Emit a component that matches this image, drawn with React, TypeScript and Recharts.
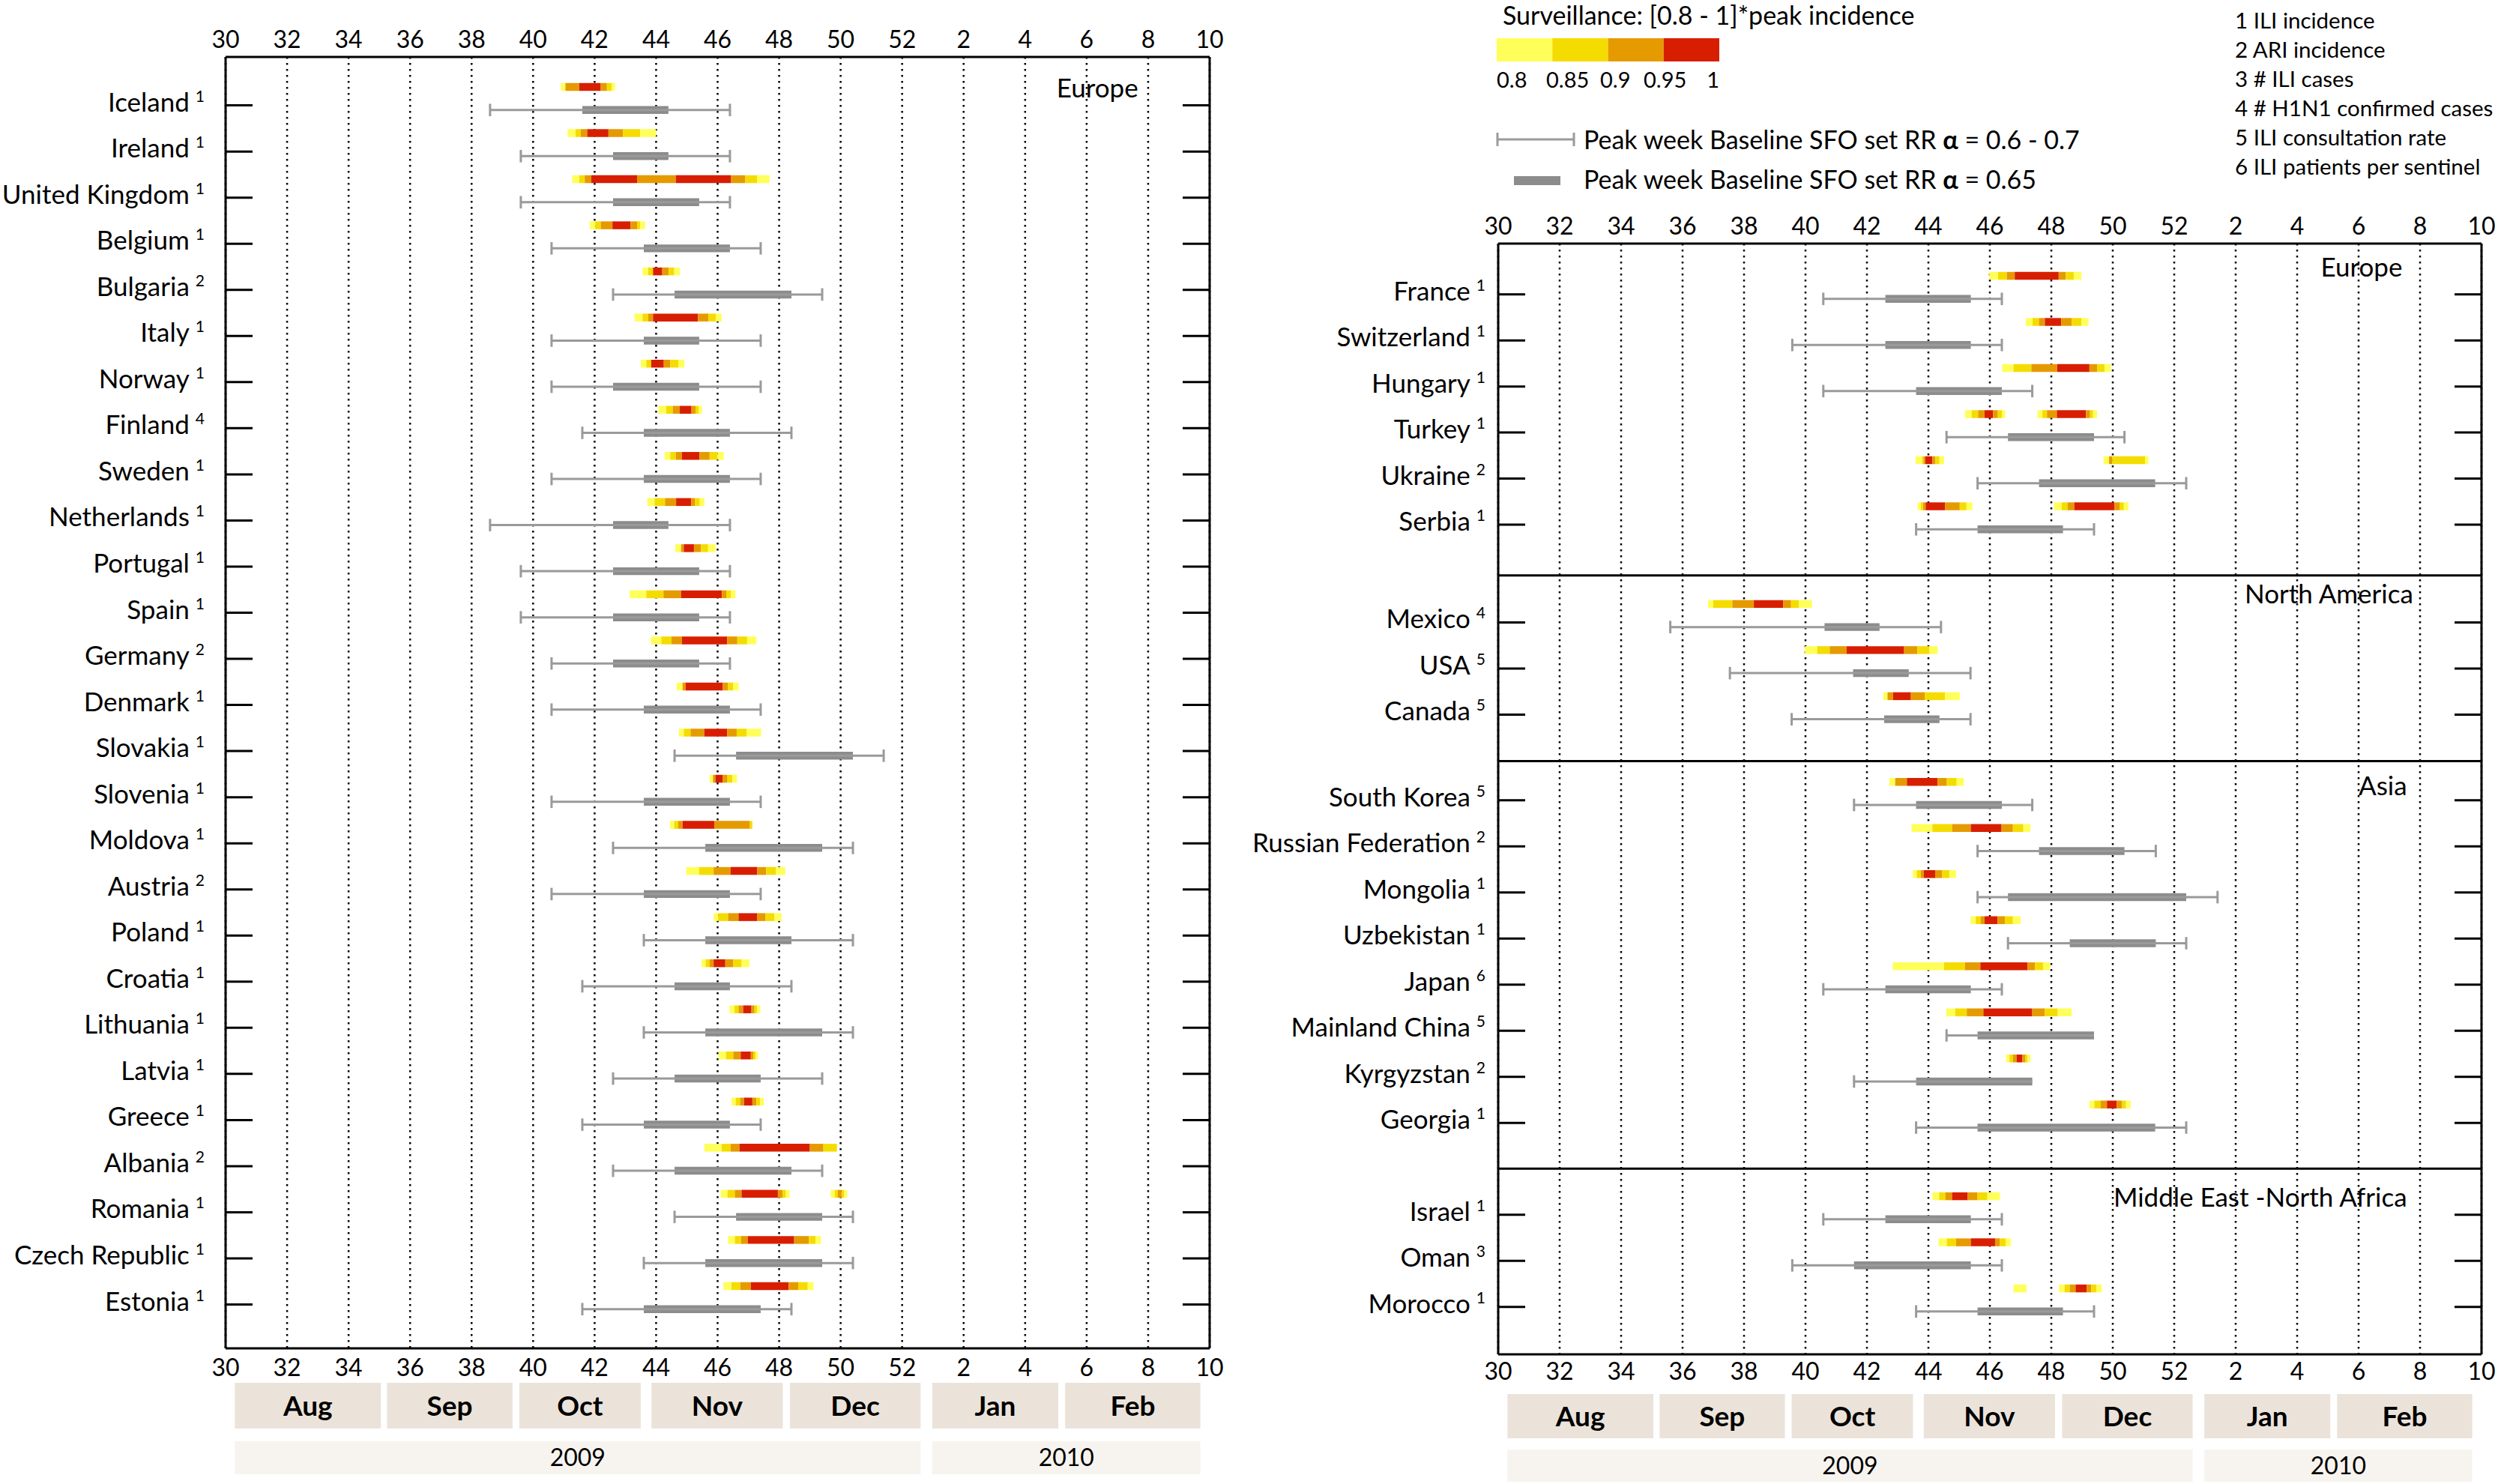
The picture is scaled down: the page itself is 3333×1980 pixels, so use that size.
import React from "react";
import {
  ComposedChart,
  XAxis,
  YAxis,
  CartesianGrid,
  ReferenceArea,
  ReferenceLine,
  ReferenceDot,
} from "recharts";

const FONT = "Lato, 'Noto Sans', 'DejaVu Sans', sans-serif";

// week axis: 2009 weeks run to 52, then 54 = week 2 of 2010 etc.
const WEEK_TICKS = [30, 32, 34, 36, 38, 40, 42, 44, 46, 48, 50, 52, 54, 56, 58, 60, 62];
const weekLabel = (v: number) => String(v > 52 ? v - 52 : v);

// surveillance colour classes
const LEVEL_COLORS = ["#FFFF5A", "#F5DC00", "#E59A00", "#D81E00"];
const LEVEL_LABELS = ["0.8", "0.85", "0.9", "0.95", "1"];

const MONTHS = ["Aug", "Sep", "Oct", "Nov", "Dec", "Jan", "Feb"];
const MONTH_FROM = [30.3, 35.25, 39.55, 43.85, 48.35, 52.98, 57.3];
const MONTH_TO = [35.05, 39.33, 43.5, 48.12, 52.6, 57.08, 61.7];
const YEARS = ["2009", "2010"];
const YEAR_FROM = [30.3, 52.98];
const YEAR_TO = [52.6, 61.7];

const FOOTNOTES = [
  "1 ILI incidence",
  "2 ARI incidence",
  "3 # ILI cases",
  "4 # H1N1 confirmed cases",
  "5 ILI consultation rate",
  "6 ILI patients per sentinel",
];

// ---------- left panel: Europe ----------
const EUROPE_W = [
  "Iceland", "Ireland", "United Kingdom", "Belgium", "Bulgaria", "Italy", "Norway",
  "Finland", "Sweden", "Netherlands", "Portugal", "Spain", "Germany", "Denmark",
  "Slovakia", "Slovenia", "Moldova", "Austria", "Poland", "Croatia", "Lithuania",
  "Latvia", "Greece", "Albania", "Romania", "Czech Republic", "Estonia",
];
const EUROPE_W_NOTE = [1, 1, 1, 1, 2, 1, 1, 4, 1, 1, 1, 1, 2, 1, 1, 1, 1, 2, 1, 1, 1, 1, 1, 2, 1, 1, 1];
// [from week, to week, level index]
const EUROPE_W_SURV = [
  [[40.9, 41.05, 0], [41.05, 41.5, 2], [41.5, 42.2, 3], [42.2, 42.4, 2], [42.4, 42.55, 1], [42.55, 42.66, 0]],
  [[41.12, 41.38, 0], [41.38, 41.55, 1], [41.55, 41.76, 2], [41.76, 42.45, 3], [42.45, 42.92, 2], [42.92, 43.48, 1], [43.48, 44.0, 0]],
  [[41.27, 41.5, 0], [41.5, 41.68, 1], [41.68, 41.89, 2], [41.89, 43.38, 3], [43.38, 44.64, 2], [44.64, 46.44, 3], [46.44, 46.9, 2], [46.9, 47.28, 1], [47.28, 47.69, 0]],
  [[41.84, 42.02, 0], [42.02, 42.2, 1], [42.2, 42.58, 2], [42.58, 43.17, 3], [43.17, 43.38, 2], [43.38, 43.48, 1], [43.48, 43.64, 0]],
  [[43.56, 43.74, 0], [43.74, 43.9, 1], [43.9, 44.2, 3], [44.2, 44.41, 2], [44.41, 44.59, 1], [44.59, 44.77, 0]],
  [[43.3, 43.56, 0], [43.56, 43.74, 1], [43.74, 43.9, 2], [43.9, 45.36, 3], [45.36, 45.7, 2], [45.7, 45.95, 1], [45.95, 46.13, 0]],
  [[43.5, 43.68, 0], [43.68, 43.84, 1], [43.84, 44.25, 3], [44.25, 44.46, 2], [44.46, 44.72, 1], [44.72, 44.92, 0]],
  [[44.07, 44.33, 0], [44.33, 44.54, 1], [44.54, 44.77, 2], [44.77, 45.15, 3], [45.15, 45.28, 2], [45.28, 45.38, 1], [45.38, 45.49, 0]],
  [[44.28, 44.46, 0], [44.46, 44.64, 1], [44.64, 44.84, 2], [44.84, 45.41, 3], [45.41, 45.74, 2], [45.74, 46.0, 1], [46.0, 46.2, 0]],
  [[43.71, 43.95, 0], [43.95, 44.29, 1], [44.29, 44.65, 2], [44.65, 45.14, 3], [45.14, 45.27, 2], [45.27, 45.42, 1], [45.42, 45.57, 0]],
  [[44.62, 44.81, 0], [44.81, 44.9, 2], [44.9, 45.23, 3], [45.23, 45.46, 2], [45.46, 45.69, 1], [45.69, 45.93, 0]],
  [[43.14, 43.68, 0], [43.68, 44.24, 1], [44.24, 44.81, 2], [44.81, 46.14, 3], [46.14, 46.28, 2], [46.28, 46.43, 1], [46.43, 46.58, 0]],
  [[43.83, 44.17, 0], [44.17, 44.5, 1], [44.5, 44.84, 2], [44.84, 46.31, 3], [46.31, 46.64, 2], [46.64, 46.96, 1], [46.96, 47.26, 0]],
  [[44.67, 44.86, 0], [44.86, 44.96, 2], [44.96, 46.17, 3], [46.17, 46.34, 2], [46.34, 46.5, 1], [46.5, 46.68, 0]],
  [[44.74, 44.9, 0], [44.9, 45.12, 1], [45.12, 45.57, 2], [45.57, 46.31, 3], [46.31, 46.62, 2], [46.62, 46.94, 1], [46.94, 47.41, 0]],
  [[45.74, 45.85, 0], [45.85, 45.93, 2], [45.93, 46.16, 3], [46.16, 46.32, 2], [46.32, 46.48, 1], [46.48, 46.63, 0]],
  [[44.45, 44.59, 0], [44.59, 44.72, 1], [44.72, 44.86, 2], [44.86, 45.89, 3], [45.89, 47.05, 2], [47.05, 47.13, 1]],
  [[44.98, 45.4, 0], [45.4, 45.87, 1], [45.87, 46.42, 2], [46.42, 47.29, 3], [47.29, 47.58, 2], [47.58, 47.89, 1], [47.89, 48.2, 0]],
  [[45.87, 46.02, 0], [46.02, 46.34, 1], [46.34, 46.68, 2], [46.68, 47.28, 3], [47.28, 47.56, 2], [47.56, 47.84, 1], [47.84, 48.08, 0]],
  [[45.48, 45.61, 0], [45.61, 45.74, 1], [45.74, 45.87, 2], [45.87, 46.25, 3], [46.25, 46.51, 2], [46.51, 46.78, 1], [46.78, 47.03, 0]],
  [[46.39, 46.55, 0], [46.55, 46.68, 1], [46.68, 46.83, 2], [46.83, 47.1, 3], [47.1, 47.2, 2], [47.2, 47.28, 1], [47.28, 47.38, 0]],
  [[46.03, 46.27, 0], [46.27, 46.51, 1], [46.51, 46.75, 2], [46.75, 47.08, 3], [47.08, 47.16, 2], [47.16, 47.23, 1], [47.23, 47.31, 0]],
  [[46.45, 46.59, 0], [46.59, 46.73, 1], [46.73, 46.86, 2], [46.86, 47.13, 3], [47.13, 47.26, 2], [47.26, 47.38, 1], [47.38, 47.5, 0]],
  [[45.57, 46.13, 0], [46.13, 46.42, 1], [46.42, 46.71, 2], [46.71, 49.0, 3], [49.0, 49.44, 2], [49.44, 49.88, 1]],
  [[46.1, 46.32, 0], [46.32, 46.56, 1], [46.56, 46.78, 2], [46.78, 47.96, 3], [47.96, 48.11, 2], [48.11, 48.22, 1], [48.22, 48.34, 0],
   [49.68, 49.81, 0], [49.81, 49.91, 1], [49.91, 50.03, 2], [50.03, 50.11, 1], [50.11, 50.21, 0]],
  [[46.34, 46.56, 0], [46.56, 46.76, 1], [46.76, 46.98, 2], [46.98, 48.49, 3], [48.49, 48.97, 2], [48.97, 49.18, 1], [49.18, 49.36, 0]],
  [[46.19, 46.45, 0], [46.45, 46.74, 1], [46.74, 47.08, 2], [47.08, 48.31, 3], [48.31, 48.62, 2], [48.62, 48.93, 1], [48.93, 49.12, 0]],
];
// [whisker low, box low, box high, whisker high]
const EUROPE_W_BASE = [
  [38.6, 41.6, 44.4, 46.4], [39.6, 42.6, 44.4, 46.4], [39.6, 42.6, 45.4, 46.4], [40.6, 43.6, 46.4, 47.4],
  [42.6, 44.6, 48.4, 49.4], [40.6, 43.6, 45.4, 47.4], [40.6, 42.6, 45.4, 47.4], [41.6, 43.6, 46.4, 48.4],
  [40.6, 43.6, 46.4, 47.4], [38.6, 42.6, 44.4, 46.4], [39.6, 42.6, 45.4, 46.4], [39.6, 42.6, 45.4, 46.4],
  [40.6, 42.6, 45.4, 46.4], [40.6, 43.6, 46.4, 47.4], [44.6, 46.6, 50.4, 51.4], [40.6, 43.6, 46.4, 47.4],
  [42.6, 45.6, 49.4, 50.4], [40.6, 43.6, 46.4, 47.4], [43.6, 45.6, 48.4, 50.4], [41.6, 44.6, 46.4, 48.4],
  [43.6, 45.6, 49.4, 50.4], [42.6, 44.6, 47.4, 49.4], [41.6, 43.6, 46.4, 47.4], [42.6, 44.6, 48.4, 49.4],
  [44.6, 46.6, 49.4, 50.4], [43.6, 45.6, 49.4, 50.4], [41.6, 43.6, 47.4, 48.4],
];

// ---------- right panel ----------
const EUROPE_E = ["France", "Switzerland", "Hungary", "Turkey", "Ukraine", "Serbia"];
const EUROPE_E_NOTE = [1, 1, 1, 1, 2, 1];
const EUROPE_E_SURV = [
  [[45.98, 46.27, 0], [46.27, 46.55, 1], [46.55, 46.81, 2], [46.81, 48.24, 3], [48.24, 48.47, 2], [48.47, 48.73, 1], [48.73, 48.98, 0]],
  [[47.17, 47.39, 0], [47.39, 47.6, 1], [47.6, 47.79, 2], [47.79, 48.32, 3], [48.32, 48.66, 2], [48.66, 48.98, 1], [48.98, 49.21, 0]],
  [[46.4, 46.77, 0], [46.77, 47.35, 1], [47.35, 48.19, 2], [48.19, 49.24, 3], [49.24, 49.5, 2], [49.5, 49.73, 1], [49.73, 49.94, 0]],
  [[45.19, 45.41, 0], [45.41, 45.62, 1], [45.62, 45.83, 2], [45.83, 46.1, 3], [46.1, 46.26, 2], [46.26, 46.39, 1], [46.39, 46.5, 0],
   [47.55, 47.71, 0], [47.71, 47.86, 1], [47.86, 48.18, 2], [48.18, 49.13, 3], [49.13, 49.26, 2], [49.26, 49.36, 1], [49.36, 49.49, 0]],
  [[43.58, 43.79, 0], [43.79, 43.84, 1], [43.84, 43.9, 2], [43.9, 44.13, 3], [44.13, 44.23, 2], [44.23, 44.36, 1], [44.36, 44.51, 0],
   [49.7, 49.88, 0], [49.88, 49.98, 2], [49.98, 51.05, 1], [51.05, 51.16, 0]],
  [[43.65, 43.75, 0], [43.75, 43.83, 1], [43.83, 43.91, 2], [43.91, 44.54, 3], [44.54, 45.02, 2], [45.02, 45.24, 1], [45.24, 45.43, 0],
   [48.09, 48.34, 0], [48.34, 48.53, 1], [48.53, 48.75, 2], [48.75, 50.06, 3], [50.06, 50.22, 2], [50.22, 50.36, 1], [50.36, 50.51, 0]],
];
const EUROPE_E_BASE = [
  [40.58, 42.6, 45.38, 46.39], [39.57, 42.6, 45.38, 46.39], [40.58, 43.6, 46.39, 47.38],
  [44.59, 46.59, 49.39, 50.38], [45.6, 47.6, 51.38, 52.39], [43.6, 45.6, 48.38, 49.39],
];

const NAMERICA = ["Mexico", "USA", "Canada"];
const NAMERICA_NOTE = [4, 5, 5];
const NAMERICA_SURV = [
  [[36.83, 37.0, 0], [37.0, 37.62, 1], [37.62, 38.32, 2], [38.32, 39.28, 3], [39.28, 39.53, 2], [39.53, 39.79, 1], [39.79, 40.21, 0]],
  [[39.98, 40.38, 0], [40.38, 40.79, 1], [40.79, 41.34, 2], [41.34, 43.21, 3], [43.21, 43.64, 2], [43.64, 44.03, 1], [44.03, 44.3, 0]],
  [[42.53, 42.67, 0], [42.67, 42.85, 2], [42.85, 43.43, 3], [43.43, 43.88, 2], [43.88, 44.54, 1], [44.54, 45.02, 0]],
];
const NAMERICA_BASE = [
  [35.6, 40.62, 42.41, 44.41], [37.54, 41.55, 43.36, 45.37], [39.55, 42.56, 44.36, 45.37],
];

const ASIA = ["South Korea", "Russian Federation", "Mongolia", "Uzbekistan", "Japan", "Mainland China", "Kyrgyzstan", "Georgia"];
const ASIA_NOTE = [5, 2, 1, 1, 6, 5, 2, 1];
const ASIA_SURV = [
  [[42.73, 42.92, 0], [42.92, 43.3, 2], [43.3, 44.3, 3], [44.3, 44.6, 2], [44.6, 44.92, 1], [44.92, 45.15, 0]],
  [[43.45, 44.13, 0], [44.13, 44.77, 1], [44.77, 45.38, 2], [45.38, 46.38, 3], [46.38, 46.75, 2], [46.75, 47.09, 1], [47.09, 47.32, 0]],
  [[43.49, 43.62, 0], [43.62, 43.75, 1], [43.75, 43.85, 2], [43.85, 44.22, 3], [44.22, 44.45, 2], [44.45, 44.68, 1], [44.68, 44.9, 0]],
  [[45.38, 45.54, 0], [45.54, 45.7, 1], [45.7, 45.83, 2], [45.83, 46.25, 3], [46.25, 46.49, 2], [46.49, 46.75, 1], [46.75, 47.0, 0]],
  [[42.84, 44.51, 0], [44.51, 45.19, 1], [45.19, 45.69, 2], [45.69, 47.23, 3], [47.23, 47.47, 2], [47.47, 47.73, 1], [47.73, 47.96, 0]],
  [[44.58, 44.87, 0], [44.87, 45.25, 1], [45.25, 45.79, 2], [45.79, 47.38, 3], [47.38, 47.79, 2], [47.79, 48.21, 1], [48.21, 48.66, 0]],
  [[46.53, 46.64, 0], [46.64, 46.75, 1], [46.75, 46.87, 2], [46.87, 47.06, 3], [47.06, 47.15, 2], [47.15, 47.23, 1], [47.23, 47.32, 0]],
  [[49.24, 49.4, 0], [49.4, 49.6, 1], [49.6, 49.81, 2], [49.81, 50.13, 3], [50.13, 50.3, 2], [50.3, 50.43, 1], [50.43, 50.58, 0]],
];
const ASIA_BASE = [
  [41.58, 43.6, 46.39, 47.38], [45.6, 47.6, 50.38, 51.4], [45.6, 46.59, 52.39, 53.41], [46.59, 48.6, 51.4, 52.39],
  [40.58, 42.6, 45.38, 46.39], [44.59, 45.6, 49.39, 49.39], [41.58, 43.6, 47.38, 47.38], [43.6, 45.6, 51.38, 52.39],
];

const MENA = ["Israel", "Oman", "Morocco"];
const MENA_NOTE = [1, 3, 1];
const MENA_SURV = [
  [[44.13, 44.35, 0], [44.35, 44.55, 1], [44.55, 44.77, 2], [44.77, 45.28, 3], [45.28, 45.6, 2], [45.6, 45.92, 1], [45.92, 46.33, 0]],
  [[44.33, 44.6, 0], [44.6, 44.9, 1], [44.9, 45.38, 2], [45.38, 46.17, 3], [46.17, 46.33, 2], [46.33, 46.52, 1], [46.52, 46.68, 0]],
  [[46.77, 47.19, 0], [48.25, 48.43, 0], [48.43, 48.6, 1], [48.6, 48.79, 2], [48.79, 49.15, 3], [49.15, 49.3, 2], [49.3, 49.47, 1], [49.47, 49.64, 0]],
];
const MENA_BASE = [
  [40.58, 42.6, 45.38, 46.39], [39.57, 41.58, 45.38, 46.39], [43.6, 45.6, 48.38, 49.39],
];

// ---------- layout ----------
const LEFT_GEO = {
  left: 0, top: 0, width: 1640, height: 1870,
  plotLeft: 301, plotRight: 1614, plotTop: 76, plotBottom: 1799,
  yMax: 28, labelGap: 28, bottomGap: 14,
};
const RIGHT_GEO = {
  left: 1640, top: 240, width: 1693, height: 1627,
  plotLeft: 1999, plotRight: 3311, plotTop: 325, plotBottom: 1807,
  yMax: 24.1, labelGap: 17, bottomGap: 11,
};

type Section = {
  region: string;
  countries: string[];
  notes: number[];
  surv: number[][][];
  base: number[][];
  start: number; // y position of first row
  labelX: number;
  labelY: number;
};

const LEFT_SECTIONS: Section[] = [
  { region: "Europe", countries: EUROPE_W, notes: EUROPE_W_NOTE, surv: EUROPE_W_SURV, base: EUROPE_W_BASE, start: 1.05, labelX: 59.7, labelY: 0.67 },
];
const RIGHT_SECTIONS: Section[] = [
  { region: "Europe", countries: EUROPE_E, notes: EUROPE_E_NOTE, surv: EUROPE_E_SURV, base: EUROPE_E_BASE, start: 1.1, labelX: 59.45, labelY: 0.52 },
  { region: "North America", countries: NAMERICA, notes: NAMERICA_NOTE, surv: NAMERICA_SURV, base: NAMERICA_BASE, start: 8.22, labelX: 59.8, labelY: 7.61 },
  { region: "Asia", countries: ASIA, notes: ASIA_NOTE, surv: ASIA_SURV, base: ASIA_BASE, start: 12.08, labelX: 59.6, labelY: 11.76 },
  { region: "Middle East -North Africa", countries: MENA, notes: MENA_NOTE, surv: MENA_SURV, base: MENA_BASE, start: 21.07, labelX: 59.6, labelY: 20.7 },
];
const RIGHT_SEPARATORS = [7.2, 11.23, 20.07];

const SURV_OFFSET = -0.4;
const BASE_OFFSET = 0.1;
const BAR_HALF = 0.085;
const CAP_HALF = 0.135;
const BOX_COLOR = "#8C8C8C";
const WHISKER_COLOR = "#9A9A9A";

type Row = { name: string; note: number; pos: number; wk: number; surv: number[][]; base: number[] };

const NameTick = (props: any) => {
  const { x, y, payload, rows, gap } = props;
  const row = rows.find((r: Row) => Math.abs(r.pos - payload.value) < 1e-6);
  if (!row) return null;
  return (
    <g>
      <line x1={x + gap} x2={x + gap + 36} y1={y} y2={y} stroke="#000" strokeWidth={3} />
      <text x={x} y={y + 8} textAnchor="end" fontSize={35} fontFamily={FONT} fill="#000">
        {row.name}
        <tspan dx={8} dy={-13} fontSize={21}>
          {row.note}
        </tspan>
      </text>
    </g>
  );
};

const InnerTick = (props: any) => {
  const { x, y } = props;
  return <line x1={x - 36} x2={x} y1={y} y2={y} stroke="#000" strokeWidth={3} />;
};

const axisTick = { fontSize: 32, fill: "#000", fontFamily: FONT };
const frameLine = { stroke: "#000", strokeWidth: 3 };

function Panel({ geo, sections, separators }: { geo: typeof LEFT_GEO; sections: Section[]; separators: number[] }) {
  const rows: Row[] = sections.flatMap((s) =>
    s.countries.map((c, i) => ({
      name: c,
      note: s.notes[i],
      pos: s.start + i,
      wk: s.base[i][1],
      surv: s.surv[i],
      base: s.base[i],
    }))
  );
  const ticks = rows.map((r) => r.pos);
  const ids = { xAxisId: "t", yAxisId: "l" };

  return (
    <div style={{ position: "absolute", left: geo.left, top: geo.top }}>
      <ComposedChart width={geo.width} height={geo.height} data={rows} margin={{ top: 0, right: 0, bottom: 0, left: 0 }}>
        <XAxis
          xAxisId="t"
          dataKey="wk"
          orientation="top"
          type="number"
          domain={[30, 62]}
          allowDataOverflow
          ticks={WEEK_TICKS}
          interval={0}
          height={geo.plotTop - geo.top}
          tickLine={false}
          tickSize={0}
          tickMargin={12}
          tickFormatter={weekLabel}
          tick={axisTick}
          axisLine={frameLine}
        />
        <XAxis
          xAxisId="b"
          dataKey="wk"
          orientation="bottom"
          type="number"
          domain={[30, 62]}
          allowDataOverflow
          ticks={WEEK_TICKS}
          interval={0}
          height={geo.top + geo.height - geo.plotBottom}
          tickLine={false}
          tickSize={0}
          tickMargin={geo.bottomGap}
          tickFormatter={weekLabel}
          tick={axisTick}
          axisLine={frameLine}
        />
        <YAxis
          yAxisId="l"
          orientation="left"
          type="number"
          domain={[0, geo.yMax]}
          allowDataOverflow
          reversed
          ticks={ticks}
          interval={0}
          width={geo.plotLeft - geo.left}
          tickLine={false}
          tickSize={0}
          tickMargin={geo.labelGap}
          tick={(p: any) => <NameTick {...p} rows={rows} gap={geo.labelGap} />}
          axisLine={frameLine}
        />
        <YAxis
          yAxisId="r"
          orientation="right"
          type="number"
          domain={[0, geo.yMax]}
          allowDataOverflow
          reversed
          ticks={ticks}
          interval={0}
          width={geo.left + geo.width - geo.plotRight}
          tickLine={false}
          tickSize={0}
          tickMargin={0}
          tick={(p: any) => <InnerTick {...p} />}
          axisLine={frameLine}
        />
        <CartesianGrid {...ids} horizontal={false} stroke="#000" strokeWidth={2.5} strokeDasharray="2.5 5.5" />

        {separators.map((s) => (
          <ReferenceLine key={`sep${s}`} {...ids} y={s} stroke="#000" strokeWidth={3} />
        ))}

        {sections.map((s) => (
          <ReferenceDot
            key={`reg${s.region}`}
            {...ids}
            x={s.labelX}
            y={s.labelY}
            r={1}
            fill="none"
            stroke="none"
            label={{ value: s.region, position: "left", offset: 0, fontSize: 35, fill: "#000", fontFamily: FONT }}
          />
        ))}

        {rows.map((r) => {
          const [lo, q1, q3, hi] = r.base;
          const y = r.pos + BASE_OFFSET;
          return (
            <React.Fragment key={`b${r.name}`}>
              <ReferenceLine {...ids} segment={[{ x: lo, y }, { x: hi, y }]} stroke={WHISKER_COLOR} strokeWidth={3} />
              {lo < q1 - 0.01 && (
                <ReferenceLine {...ids} segment={[{ x: lo, y: y - CAP_HALF }, { x: lo, y: y + CAP_HALF }]} stroke={WHISKER_COLOR} strokeWidth={3} />
              )}
              {hi > q3 + 0.01 && (
                <ReferenceLine {...ids} segment={[{ x: hi, y: y - CAP_HALF }, { x: hi, y: y + CAP_HALF }]} stroke={WHISKER_COLOR} strokeWidth={3} />
              )}
              <ReferenceArea {...ids} x1={q1} x2={q3} y1={y - BAR_HALF} y2={y + BAR_HALF} fill={BOX_COLOR} fillOpacity={1} stroke="none" />
            </React.Fragment>
          );
        })}

        {rows.flatMap((r) =>
          r.surv.map(([a, b, l], k) => (
            <ReferenceArea
              key={`s${r.name}${k}`}
              {...ids}
              x1={a}
              x2={b}
              y1={r.pos + SURV_OFFSET - BAR_HALF}
              y2={r.pos + SURV_OFFSET + BAR_HALF}
              fill={LEVEL_COLORS[l]}
              fillOpacity={1}
              stroke="none"
            />
          ))
        )}
      </ComposedChart>
    </div>
  );
}

// strip of month / year boxes under a panel (y in strip pixels)
function CalendarStrip({ geo, top, height, monthBand, yearBand }: { geo: typeof LEFT_GEO; top: number; height: number; monthBand: number[]; yearBand: number[] }) {
  return (
    <div style={{ position: "absolute", left: geo.left, top }}>
      <ComposedChart
        width={geo.width}
        height={height}
        data={MONTHS.map((m, i) => ({ m, from: MONTH_FROM[i], to: MONTH_TO[i] }))}
        margin={{ top: 0, bottom: 0, left: geo.plotLeft - geo.left, right: geo.left + geo.width - geo.plotRight }}
      >
        <XAxis dataKey="from" type="number" domain={[30, 62]} allowDataOverflow hide height={0} />
        <YAxis type="number" domain={[0, height]} allowDataOverflow reversed hide width={0} />
        {MONTHS.map((m, i) => (
          <ReferenceArea
            key={m}
            x1={MONTH_FROM[i]}
            x2={MONTH_TO[i]}
            y1={monthBand[0]}
            y2={monthBand[1]}
            fill="#EBE3DA"
            fillOpacity={1}
            stroke="none"
            label={{ value: m, position: "center", fontSize: 37, fontWeight: 700, fill: "#000", fontFamily: FONT }}
          />
        ))}
        {YEARS.map((yr, i) => (
          <ReferenceArea
            key={yr}
            x1={YEAR_FROM[i]}
            x2={YEAR_TO[i]}
            y1={yearBand[0]}
            y2={yearBand[1]}
            fill="#F7F4EF"
            fillOpacity={1}
            stroke="none"
            label={{ value: yr, position: "center", fontSize: 32, fill: "#000", fontFamily: FONT }}
          />
        ))}
      </ComposedChart>
    </div>
  );
}

const LEGEND_LABEL_X = [37, 103, 175, 233];

function Legend() {
  const swW = 74.25;
  return (
    <svg style={{ position: "absolute", left: 1960, top: 0 }} width={1373} height={270} fontFamily={FONT}>
      <text x={45} y={33} fontSize={34} fill="#000">
        Surveillance: [0.8 - 1]*peak incidence
      </text>
      {LEVEL_COLORS.map((c, i) => (
        <rect key={c} x={37 + i * swW} y={51} width={swW} height={31} fill={c} />
      ))}
      {LEVEL_LABELS.slice(0, 4).map((l, i) => (
        <text key={l} x={LEGEND_LABEL_X[i]} y={117} fontSize={29} fill="#000">
          {l}
        </text>
      ))}
      <text x={37 + 4 * swW} y={117} fontSize={29} fill="#000" textAnchor="end">
        {LEVEL_LABELS[4]}
      </text>

      <line x1={38} x2={140} y1={186} y2={186} stroke={WHISKER_COLOR} strokeWidth={3} />
      <line x1={38} x2={38} y1={177} y2={195} stroke={WHISKER_COLOR} strokeWidth={3} />
      <line x1={140} x2={140} y1={177} y2={195} stroke={WHISKER_COLOR} strokeWidth={3} />
      <text x={153} y={199} fontSize={34} fill="#000">
        Peak week Baseline SFO set RR <tspan fontWeight={700}>α</tspan> = 0.6 - 0.7
      </text>
      <rect x={60} y={235} width={62} height={12} fill={BOX_COLOR} />
      <text x={153} y={252} fontSize={34} fill="#000">
        Peak week Baseline SFO set RR <tspan fontWeight={700}>α</tspan> = 0.65
      </text>

      {FOOTNOTES.map((f, i) => (
        <text key={f} x={1022} y={38 + i * 39} fontSize={29.5} fill="#000">
          {f}
        </text>
      ))}
    </svg>
  );
}

export default function App() {
  return (
    <div style={{ position: "relative", width: 3333, height: 1980, background: "#fff", fontFamily: FONT, overflow: "hidden" }}>
      <style>{"body{margin:0;}"}</style>
      <Panel geo={LEFT_GEO} sections={LEFT_SECTIONS} separators={[]} />
      <Panel geo={RIGHT_GEO} sections={RIGHT_SECTIONS} separators={RIGHT_SEPARATORS} />
      <CalendarStrip geo={LEFT_GEO} top={1840} height={135} monthBand={[5, 66]} yearBand={[83, 127]} />
      <CalendarStrip geo={RIGHT_GEO} top={1855} height={125} monthBand={[5, 64]} yearBand={[79, 122]} />
      <Legend />
    </div>
  );
}
